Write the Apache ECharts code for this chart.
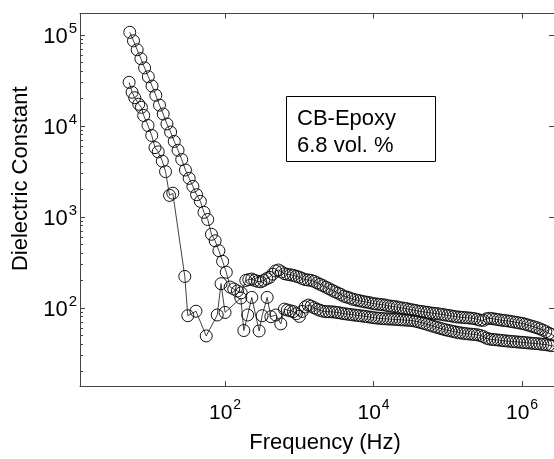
<!DOCTYPE html>
<html>
<head>
<meta charset="utf-8">
<script src="https://cdn.jsdelivr.net/npm/echarts@6/dist/echarts.min.js"></script>
<style>
  html, body { margin: 0; padding: 0; background: #fff; }
  #chart { width: 554px; height: 459px; }
</style>
</head>
<body>
<div id="chart"></div>
<script>
// upper trace (low-frequency part, read point by point)
const upFreqLow = [5.21, 5.85, 6.56, 7.36, 8.26, 9.27, 10.4, 11.7, 13.1, 14.7, 16.5, 18.5, 20.7, 23.3, 26.1,
    29.3, 32.9, 36.9, 41.4, 46.5, 52.1, 58.5, 65.6, 73.6, 82.6, 92.7, 104, 117, 131, 147, 165];
const upValLow = [106900, 86100, 68700, 54800, 43400, 34700, 27400, 21700, 16900, 13500, 10500, 8550, 6750, 5400, 4270,
    3270, 2650, 2160, 1750, 1480, 1120, 935, 643, 545, 424, 324, 246, 169, 161, 153, 146];

// lower trace (low-frequency part, with its scattered points)
const loFreqLow = [5.11, 5.60, 6.08, 6.88, 7.48, 8.03, 9.17, 10.3, 11.4, 12.6, 14.3, 15.8, 17.9, 19.8, 28.7,
    31.5, 40.6, 55.8, 78.5, 88.3, 100, 163, 179, 202, 229, 288, 316, 369, 414, 483, 563];
const loValLow = [30100, 23400, 20400, 17300, 16000, 13000, 10100, 7850, 5770, 5180, 4090, 3140, 1720, 1820, 221,
    81.8, 91.7, 49, 83.3, 184, 88.9, 128, 56.2, 83.3, 130, 55.6, 81.8, 130, 79.8, 83.3, 66.5];

// sweep frequencies of the dense band (Hz)
const bandFreq = [190.5, 208.9, 229.1, 251.2, 275.4, 302.0, 331.1, 363.1, 398.1, 436.5, 478.6, 524.8, 575.4,
    631.0, 691.8, 758.6, 831.8, 912.0,
    1000, 1096, 1202, 1318, 1445, 1585, 1738, 1905, 2089, 2291, 2512, 2754, 3020, 3311, 3631, 3981, 4365, 4786,
    5248, 5754, 6310, 6918, 7586, 8318, 9120,
    10000, 10960, 12020, 13180, 14450, 15850, 17380, 19050, 20890, 22910, 25120, 27540, 30200, 33110, 36310,
    39810, 43650, 47860, 52480, 57540, 63100, 69180, 75860, 83180, 91200,
    100000, 109600, 120200, 131800, 144500, 158500, 173800, 190500, 208900, 229100, 251200, 275400, 302000,
    331100, 363100, 398100, 436500, 478600, 524800, 575400, 631000, 691800, 758600, 831800, 912000,
    1000000, 1096000, 1202000, 1318000, 1445000, 1585000, 1738000, 1905000, 2089000, 2291000, 2512000, 2754000];

const upValBand = [200, 204, 207, 200, 195, 193, 200, 209, 216, 234, 254, 260, 248, 237, 233, 230, 227, 222,
    217, 210, 204, 202, 200, 195, 188, 181, 175, 168, 162, 156, 150, 145, 140, 134, 131, 128, 124, 122, 120, 118, 116, 115, 113,
    111, 110, 109, 108, 107, 105, 104, 103, 102, 100, 99, 98, 96, 95, 93.5, 92, 91, 90, 89, 88, 87, 86.3, 85.5, 84.5, 83.5,
    82.4, 81.5, 80.4, 79.4, 78.9, 78.3, 77.8, 77.3, 76.7, 75.9, 74.5, 72.8, 72.8, 75.5, 76.6, 75.9, 75, 74, 73.1, 72.4,
    71.8, 71, 70, 69.2, 68.2,
    67.3, 66.1, 64.6, 63.1, 61.7, 60.3, 58.6, 56.8, 54.7, 52.5, 50.7, 49];

// lower trace joins the band at 631 Hz
const loBandStart = 13;
const loValBand = [96.6, 94.4, 92.5, 90.8, 86.1,
    80.4, 91.2, 102, 107, 104, 100, 96.4, 93.8, 91.6, 90.6, 90.4, 90.2, 89.5, 88.5, 87.3, 86.1, 85.3, 84.5, 83.6, 82.8,
    82, 81.3, 80.5, 79.6, 78.7,
    77.8, 77.1, 76.6, 76, 75.7, 75.3, 75, 74.6, 74.3, 73.8, 73.5, 73.1, 72.8, 72.3, 71.3, 70.1, 68.7, 67.3, 65.8, 64.3,
    62.8, 61.4, 60, 58.7, 57.5,
    56.5, 55.6, 54.7, 53.8, 53.1, 52.5, 52, 51.5, 51.2, 50.8, 50.4, 49.5, 48.2, 46.3, 45.3, 44.9, 44.5, 44.2, 43.8, 43.4,
    43.1, 42.8, 42.5, 42.2, 41.9,
    41.7, 41.4, 41.1, 40.8, 40.6, 40.3, 40, 39.6, 39.3, 38.8, 38.3, 37.8];

const xTicks = [100, 10000, 1000000];
const yTicks = [100, 1000, 10000, 100000];
const yMinorTicks = [20, 30, 40, 50, 60, 70, 80, 90, 200, 300, 400, 500, 600, 700, 800, 900,
    2000, 3000, 4000, 5000, 6000, 7000, 8000, 9000, 20000, 30000, 40000, 50000, 60000, 70000, 80000, 90000];

const xRange = [1.114, 2690000];
const yRange = [13.8, 172000];

const upFreq = upFreqLow.concat(bandFreq);
const upVal = upValLow.concat(upValBand);
const loFreq = loFreqLow.concat(bandFreq.slice(loBandStart));
const loVal = loValLow.concat(loValBand);

const font = 'Liberation Sans, Arial, sans-serif';
const axisColor = '#444';

const powLabel = (v) => '{b|10}{s|' + Math.round(Math.log10(v)) + '}';
const powRich = (big, small, lift) => ({
    b: { fontSize: big, fontFamily: font, color: '#000', verticalAlign: 'bottom' },
    s: { fontSize: small, fontFamily: font, color: '#000', verticalAlign: 'bottom', padding: [0, 0, lift, 1] },
});

const chart = echarts.init(document.getElementById('chart'));

const markerSeries = (name, freq, vals) => ({
    name,
    type: 'line',
    data: freq.map((f, i) => [f, vals[i]]),
    symbol: 'circle',
    symbolSize: 12,
    itemStyle: { color: 'transparent', borderColor: '#111', borderWidth: 1 },
    lineStyle: { color: '#111', width: 0.8 },
    connectNulls: true,
    silent: true,
});

chart.setOption({
    animation: false,
    grid: { left: 80, top: 13.5, width: 476, height: 376.5 },
    xAxis: [
        {
            type: 'log',
            logBase: 10,
            min: xRange[0],
            max: xRange[1],
            position: 'bottom',
            name: 'Frequency (Hz)',
            nameLocation: 'middle',
            nameGap: 46,
            nameTextStyle: { fontSize: 22, fontFamily: font, color: '#000', padding: [0, 0, 0, 16] },
            axisLine: { show: true, lineStyle: { color: axisColor, width: 1 } },
            axisTick: { show: true, inside: true, length: 5, customValues: xTicks, lineStyle: { color: axisColor } },
            axisLabel: { customValues: xTicks, margin: 12, formatter: powLabel, rich: powRich(21, 14, 12) },
            splitLine: { show: false },
            minorTick: { show: false },
        },
        {
            type: 'log',
            logBase: 10,
            min: xRange[0],
            max: xRange[1],
            position: 'top',
            axisLine: { show: true, lineStyle: { color: axisColor, width: 1 } },
            axisTick: { show: true, inside: true, length: 5, customValues: xTicks, lineStyle: { color: axisColor } },
            axisLabel: { show: false },
            splitLine: { show: false },
        },
    ],
    yAxis: [
        {
            type: 'log',
            logBase: 10,
            min: yRange[0],
            max: yRange[1],
            position: 'left',
            name: 'Dielectric Constant',
            nameLocation: 'middle',
            nameGap: 48,
            nameTextStyle: { fontSize: 22, fontFamily: font, color: '#000', padding: [0, 0, 0, 42] },
            axisLine: { show: true, lineStyle: { color: axisColor, width: 1 } },
            axisTick: { show: true, inside: true, length: 5, customValues: yTicks, lineStyle: { color: axisColor } },
            axisLabel: { customValues: yTicks, margin: 3, formatter: powLabel, rich: powRich(22, 15, 12) },
            splitLine: { show: false },
        },
        {
            type: 'log',
            logBase: 10,
            min: yRange[0],
            max: yRange[1],
            position: 'left',
            axisLine: { show: false },
            axisTick: { show: true, inside: true, length: 3, customValues: yMinorTicks, lineStyle: { color: axisColor } },
            axisLabel: { show: false },
            splitLine: { show: false },
        },
        {
            type: 'log',
            logBase: 10,
            min: yRange[0],
            max: yRange[1],
            position: 'right',
            axisLine: { show: true, lineStyle: { color: axisColor, width: 1 } },
            axisTick: { show: true, inside: true, length: 5, customValues: yTicks, lineStyle: { color: axisColor } },
            axisLabel: { show: false },
            splitLine: { show: false },
        },
    ],
    graphic: [
        {
            type: 'rect',
            shape: { x: 286.5, y: 96.5, width: 149, height: 65 },
            style: { fill: '#fff', stroke: '#000', lineWidth: 1 },
            z: 10,
        },
        {
            type: 'text',
            x: 297,
            y: 105,
            style: {
                text: 'CB-Epoxy\n6.8 vol. %',
                fontSize: 22,
                lineHeight: 27,
                fontFamily: font,
                fill: '#000',
                verticalAlign: 'top',
            },
            z: 11,
        },
    ],
    series: [
        markerSeries('upper', upFreq, upVal),
        markerSeries('lower', loFreq, loVal),
    ],
});
</script>
</body>
</html>
